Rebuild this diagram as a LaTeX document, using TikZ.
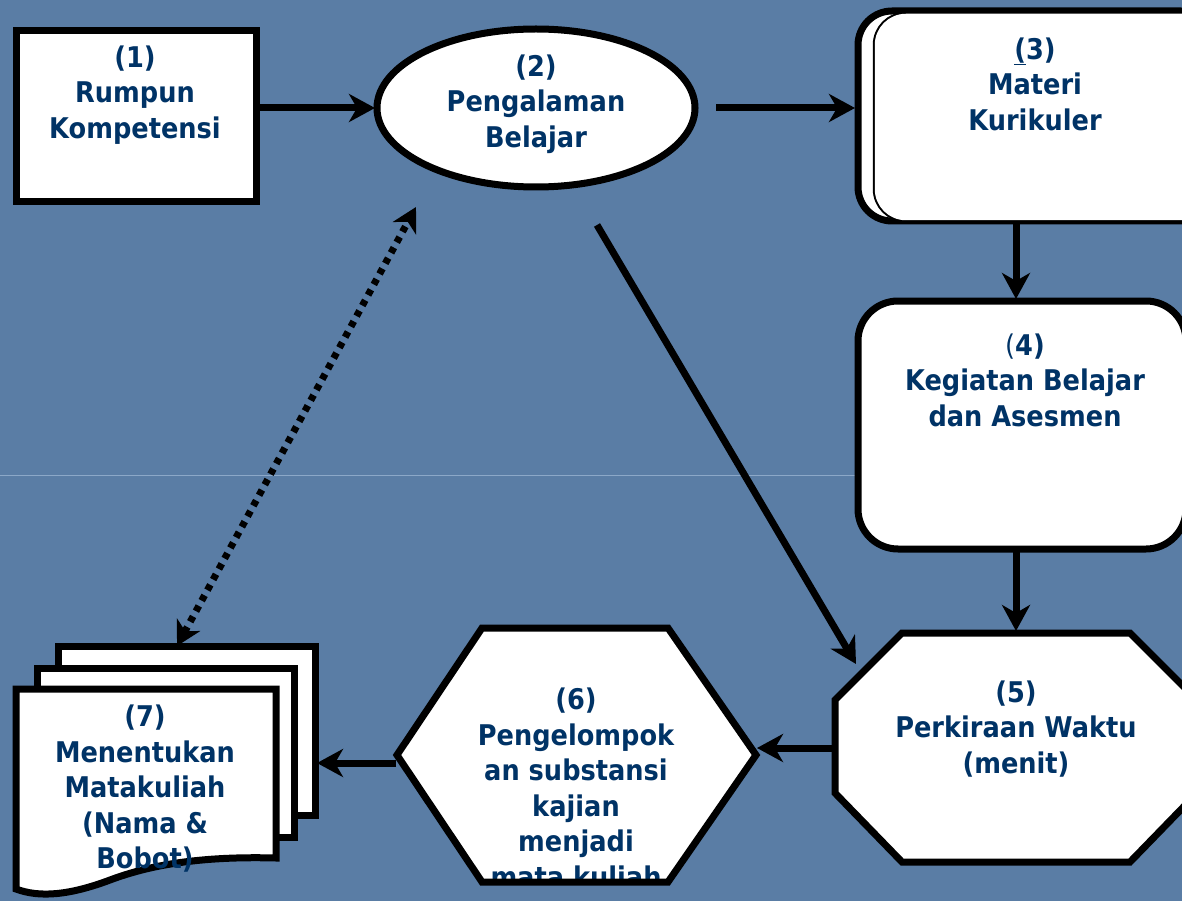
\documentclass[tikz,border=0pt]{standalone}
\usepackage{fontspec}
\newfontfamily\lbl{DejaVu Sans}[FakeStretch=0.9]
\usetikzlibrary{arrows.meta}
\definecolor{bg}{RGB}{90,125,165}
\definecolor{bgline}{RGB}{140,168,200}
\definecolor{txt}{RGB}{0,51,102}
\tikzset{
  shapebox/.style={draw=black, line width=7pt, fill=white, line join=miter},
  lab/.style={font=\lbl\bfseries\fontsize{28.5}{35.5}\selectfont, text=txt, align=center, inner sep=0pt},
  conn/.style={line width=7pt, -{Stealth[length=26pt,width=28pt,inset=8pt]}},
  dotconn/.style={line width=7pt, dash pattern=on 6pt off 6pt,
     {Stealth[length=24pt,width=26pt,inset=7pt]}-{Stealth[length=24pt,width=26pt,inset=7pt]}}
}
\begin{document}
\begin{tikzpicture}[x=1pt,y=-1pt]
\useasboundingbox (0,0) rectangle (1182,901);
\fill[bg] (0,0) rectangle (1182,901);
\draw[bgline, line width=1pt] (0,475) -- (1182,475);

% (1)
\draw[shapebox] (16,31) rectangle (256,202);
\node[lab] (t1) at (135,95) {(1)\\Rumpun\\Kompetensi};

% (2)
\draw[shapebox] (536,108) ellipse [x radius=159, y radius=79];
\node[lab] (t2) at (536,104) {(2)\\Pengalaman\\Belajar};

% (3)
\draw[shapebox, rounded corners=34pt] (858,11) rectangle (1215,221);
\draw[black, line width=6.5pt, rounded corners=30pt] (876,15) rectangle (1215,219);
\draw[white, line width=2.5pt, fill=white, rounded corners=30pt] (876,15) rectangle (1215,219);
\node[lab] (t3) at (1035,84) {\underline{(}3)\\Materi\\Kurikuler};

% (4)
\draw[shapebox, rounded corners=40pt] (858,301) rectangle (1186,549);
\node[lab] (t4) at (1025,380) {{\mdseries(}4)\\Kegiatan Belajar\\dan Asesmen};

% (5)
\draw[shapebox] (835,700) -- (902,633) -- (1130,633) -- (1197,700) -- (1197,793)
   -- (1130,862) -- (902,862) -- (835,793) -- cycle;
\node[lab] (t5) at (1016,729) {(5)\\Perkiraan Waktu\\(menit)};

% (6)
\fill[white] (397,755) -- (482,628) -- (668,628) -- (756,755) -- (668,882) -- (482,882) -- cycle;
\begin{scope}
  \clip (397,755) -- (482,628) -- (668,628) -- (756,755) -- (668,882) -- (482,882) -- cycle;
  \node[lab] (t6) at (576,788) {(6)\\Pengelompok\\an substansi\\kajian\\menjadi\\mata kuliah};
\end{scope}
\draw[draw=black, line width=7pt] (397,755) -- (482,628) -- (668,628) -- (756,755) -- (668,882) -- (482,882) -- cycle;

% (7)
\draw[shapebox] (58,646) rectangle (315,815);
\draw[shapebox] (37,668) rectangle (294,837);
\draw[shapebox] (16,689) -- (276,689) -- (276,858)
   .. controls (200,856) and (150,865) .. (110,880)
   .. controls (70,895) and (40,898) .. (16,889) -- cycle;
\node[lab] (t7) at (145,789) {(7)\\Menentukan\\Matakuliah\\(Nama \&\\Bobot)};

% connector endpoints
\coordinate (c12s) at (259,108);  \coordinate (c12e) at (375,108);
\coordinate (c23s) at (716,108);  \coordinate (c23e) at (855,108);
\coordinate (c34s) at (1016,224); \coordinate (c34e) at (1016,299);
\coordinate (c45s) at (1016,552); \coordinate (c45e) at (1016,631);
\coordinate (c25s) at (597,225);  \coordinate (c25e) at (856,664);
\coordinate (c56s) at (834,748);  \coordinate (c56e) at (757,748);
\coordinate (c67s) at (396,763);  \coordinate (c67e) at (317,763);
\coordinate (c72a) at (177,646);  \coordinate (c72b) at (416,207);

\draw[conn] (c12s) -- (c12e);
\draw[conn] (c23s) -- (c23e);
\draw[conn] (c34s) -- (c34e);
\draw[conn] (c45s) -- (c45e);
\draw[conn] (c25s) -- (c25e);
\draw[conn] (c56s) -- (c56e);
\draw[conn] (c67s) -- (c67e);
\draw[dotconn] (c72a) -- (c72b);
\end{tikzpicture}
\end{document}
